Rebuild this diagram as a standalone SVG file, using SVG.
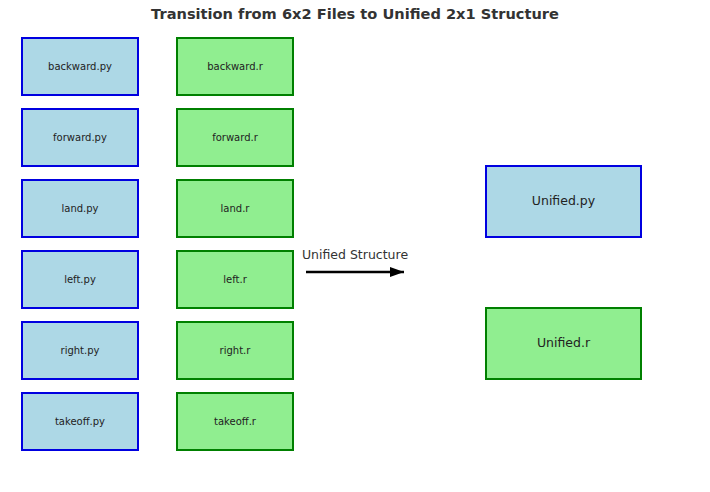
<svg xmlns="http://www.w3.org/2000/svg" width="710" height="492" viewBox="0 0 710 492">
<defs>
<style>
.py rect{fill:#ADD8E6;stroke:#0000E0;stroke-width:2}
.r rect{fill:#90EE90;stroke:#008000;stroke-width:2}
text{font-family:"DejaVu Sans",sans-serif;fill:#222;text-anchor:middle;dominant-baseline:central}
.s{font-size:10px}
.b{font-size:12.5px}
</style>
<marker id="ah" viewBox="0 0 14 10" refX="14" refY="5" markerWidth="5.6" markerHeight="4" orient="auto" markerUnits="strokeWidth"><path d="M0,0L14,5L0,10z" fill="#000"/></marker>
</defs>
<rect width="710" height="492" fill="#fff"/>
<text x="355" y="13" style="font-size:14.6px;font-weight:bold;fill:#333">Transition from 6x2 Files to Unified 2x1 Structure</text>
<g id="backward_py" class="py"><rect x="22" y="38" width="116" height="57"/><text class="s" x="80" y="66">backward.py</text></g>
<g id="forward_py" class="py"><rect x="22" y="109" width="116" height="57"/><text class="s" x="80" y="137">forward.py</text></g>
<g id="land_py" class="py"><rect x="22" y="180" width="116" height="57"/><text class="s" x="80" y="208">land.py</text></g>
<g id="left_py" class="py"><rect x="22" y="251" width="116" height="57"/><text class="s" x="80" y="279">left.py</text></g>
<g id="right_py" class="py"><rect x="22" y="322" width="116" height="57"/><text class="s" x="80" y="350">right.py</text></g>
<g id="takeoff_py" class="py"><rect x="22" y="393" width="116" height="57"/><text class="s" x="80" y="421">takeoff.py</text></g>
<g id="backward_r" class="r"><rect x="177" y="38" width="116" height="57"/><text class="s" x="235" y="66">backward.r</text></g>
<g id="forward_r" class="r"><rect x="177" y="109" width="116" height="57"/><text class="s" x="235" y="137">forward.r</text></g>
<g id="land_r" class="r"><rect x="177" y="180" width="116" height="57"/><text class="s" x="235" y="208">land.r</text></g>
<g id="left_r" class="r"><rect x="177" y="251" width="116" height="57"/><text class="s" x="235" y="279">left.r</text></g>
<g id="right_r" class="r"><rect x="177" y="322" width="116" height="57"/><text class="s" x="235" y="350">right.r</text></g>
<g id="takeoff_r" class="r"><rect x="177" y="393" width="116" height="57"/><text class="s" x="235" y="421">takeoff.r</text></g>
<g id="unified_py" class="py"><rect x="486" y="166" width="155" height="71"/><text class="b" x="563.5" y="200.5">Unified.py</text></g>
<g id="unified_r" class="r"><rect x="486" y="308" width="155" height="71"/><text class="b" x="563.5" y="342.5">Unified.r</text></g>
<g id="connectors">
<line x1="306" y1="272" x2="404" y2="272" stroke="#000" stroke-width="2.5" marker-end="url(#ah)"/>
<text x="355" y="254" style="font-size:12.5px;fill:#333">Unified Structure</text>
</g>
</svg>
